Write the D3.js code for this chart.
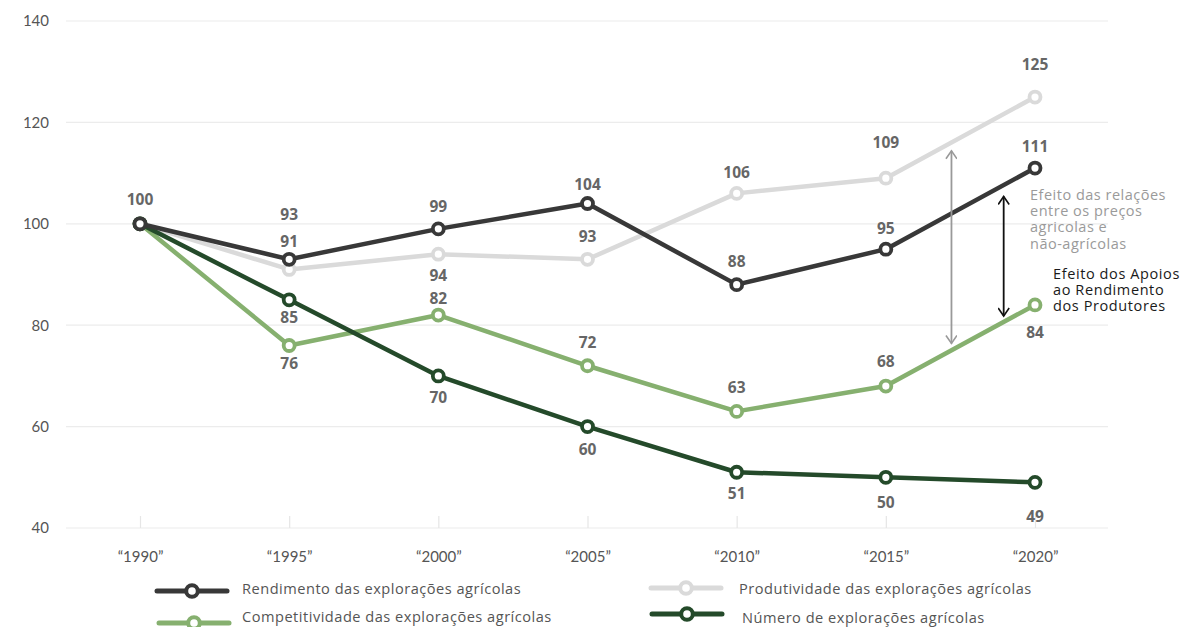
<!DOCTYPE html>
<html>
<head>
<meta charset="utf-8">
<script src="https://cdn.jsdelivr.net/npm/d3@7"></script>
<style>
  html, body { margin: 0; padding: 0; background: #fff; }
  svg { display: block; }
  text { font-family: "Lato", "Open Sans", sans-serif; }
</style>
</head>
<body>
<svg id="chart" width="1182" height="627"></svg>
<script>
// Index values, 1990 = 100
const years = ["1990", "1995", "2000", "2005", "2010", "2015", "2020"];
const rendimento = [100, 93, 99, 104, 88, 95, 111];
const produtividade = [100, 91, 94, 93, 106, 109, 125];
const competitividade = [100, 76, 82, 72, 63, 68, 84];
const numeroExploracoes = [100, 85, 70, 60, 51, 50, 49];
const yTicks = [40, 60, 80, 100, 120, 140];

const seriesNames = [
  "Rendimento das explorações agrícolas",
  "Produtividade das explorações agrícolas",
  "Competitividade das explorações agrícolas",
  "Número de explorações agrícolas"
];

// Vertical offsets (px) of each value label from its point; null = no label
const rendimentoLabelDy = [-25, -45, -23, -20, -24, -21, -22];
const produtividadeLabelDy = [null, -28, 21, -23, -21, -36, -33];
const competitividadeLabelDy = [null, 18, -17, -24, -24, -25, 27];
const numeroLabelDy = [null, 17, 21, 22, 21, 25, 34];

const colors = {
  rendimento: "#383838",
  produtividade: "#dadada",
  competitividade: "#86b06f",
  numero: "#244a2a"
};

const textFont = "'Open Sans', Lato, sans-serif";

const svg = d3.select("#chart");

const x = d3.scalePoint().domain(years).range([140, 1035]);
const y = d3.scaleLinear().domain([40, 140]).range([528, 21]);

// Grid lines
svg.append("g")
  .selectAll("line")
  .data(yTicks)
  .join("line")
  .attr("x1", 66).attr("x2", 1108)
  .attr("y1", d => y(d)).attr("y2", d => y(d))
  .attr("stroke", "#ececec").attr("stroke-width", 1.2);

// Y axis labels
const yAxis = d3.axisLeft(y).tickValues(yTicks).tickSize(0).tickPadding(0);
const yG = svg.append("g").attr("transform", "translate(49,0)").call(yAxis);
yG.select(".domain").remove();
yG.selectAll("text")
  .attr("fill", "#555").attr("font-size", 15)
  .style("font-family", "Lato, 'Open Sans', sans-serif");

// X axis: small inward ticks and quoted year labels
const xAxis = d3.axisBottom(x).tickSize(-12).tickPadding(23).tickFormat(d => "\u201C" + d + "\u201D");
const xG = svg.append("g").attr("transform", `translate(0,${y(40)})`).call(xAxis);
xG.select(".domain").remove();
xG.selectAll(".tick line").attr("stroke", "#e6e6e6").attr("stroke-width", 1.2);
xG.selectAll("text")
  .attr("fill", "#555").attr("font-size", 15)
  .style("font-family", "Lato, 'Open Sans', sans-serif");

const line = d3.line().x((d, i) => x(years[i])).y(d => y(d));

const series = [
  { key: "produtividade", values: produtividade, dy: produtividadeLabelDy },
  { key: "competitividade", values: competitividade, dy: competitividadeLabelDy },
  { key: "numero", values: numeroExploracoes, dy: numeroLabelDy },
  { key: "rendimento", values: rendimento, dy: rendimentoLabelDy }
];

const plot = svg.append("g");
series.forEach(s => {
  const g = plot.append("g");
  g.append("path")
    .datum(s.values)
    .attr("d", line)
    .attr("fill", "none")
    .attr("stroke", colors[s.key])
    .attr("stroke-width", 4.5)
    .attr("stroke-linejoin", "round");
  g.selectAll("circle")
    .data(s.values)
    .join("circle")
    .attr("cx", (d, i) => x(years[i]))
    .attr("cy", d => y(d))
    .attr("r", 5.5)
    .attr("fill", "#fff")
    .attr("stroke", colors[s.key])
    .attr("stroke-width", 3.8);
});

// Value labels
series.forEach(s => {
  plot.append("g")
    .selectAll("text")
    .data(s.values.map((v, i) => ({ v, i, dy: s.dy[i] })).filter(d => d.dy !== null))
    .join("text")
    .attr("x", d => x(years[d.i]))
    .attr("y", d => y(d.v) + d.dy)
    .attr("text-anchor", "middle")
    .attr("dominant-baseline", "central")
    .attr("font-size", 15.5)
    .attr("font-weight", 700)
    .style("font-family", "'Open Sans', Lato, sans-serif")
    .attr("fill", "#666")
    .text(d => d.v);
});

// Annotation arrows
const defs = svg.append("defs");
function chevron(id, color) {
  defs.append("marker")
    .attr("id", id)
    .attr("viewBox", "0 0 12 12")
    .attr("refX", 10).attr("refY", 6)
    .attr("markerWidth", 12).attr("markerHeight", 12)
    .attr("markerUnits", "userSpaceOnUse")
    .attr("orient", "auto-start-reverse")
    .append("path")
    .attr("d", "M2,0.5 L10,6 L2,11.5")
    .attr("fill", "none")
    .attr("stroke", color)
    .attr("stroke-width", 1.6);
}
chevron("arrowGray", "#999");
chevron("arrowBlack", "#111");

const xBetween = d3.scaleLinear().domain([0, 1]).range([x("2015"), x("2020")]);

svg.append("line")
  .attr("x1", xBetween(0.44)).attr("x2", xBetween(0.44))
  .attr("y1", y(114.4)).attr("y2", y(76.4))
  .attr("stroke", "#999").attr("stroke-width", 1.8)
  .attr("marker-start", "url(#arrowGray)")
  .attr("marker-end", "url(#arrowGray)");

svg.append("line")
  .attr("x1", xBetween(0.79)).attr("x2", xBetween(0.79))
  .attr("y1", y(105.4)).attr("y2", y(81.8))
  .attr("stroke", "#111").attr("stroke-width", 1.8)
  .attr("marker-start", "url(#arrowBlack)")
  .attr("marker-end", "url(#arrowBlack)");

// Notes, one text element per line
function note(lines, x0, y0, step, color, spacing) {
  svg.append("g")
    .selectAll("text")
    .data(lines)
    .join("text")
    .attr("x", x0)
    .attr("y", (d, i) => y0 + i * step)
    .attr("fill", color)
    .attr("font-size", 14.5)
    .attr("letter-spacing", spacing)
    .style("font-family", textFont)
    .text(d => d);
}
note(["Efeito das relações", "entre os preços", "agricolas e", "não-agrícolas"], 1030, 200, 16.2, "#9a9a9a", 0.5);
note(["Efeito dos Apoios", "ao Rendimento", "dos Produtores"], 1053, 279, 16, "#1a1a1a", 0.6);

// Legend
const legendItems = [
  { key: "rendimento", name: seriesNames[0], lx: 157, cy: 591, tx: 242, ty: 588 },
  { key: "competitividade", name: seriesNames[2], lx: 159, cy: 623, tx: 242, ty: 616 },
  { key: "produtividade", name: seriesNames[1], lx: 651, cy: 588, tx: 739, ty: 588 },
  { key: "numero", name: seriesNames[3], lx: 652, cy: 614, tx: 742, ty: 617 }
];
const legend = svg.append("g");
legendItems.forEach(item => {
  const g = legend.append("g");
  g.append("line")
    .attr("x1", item.lx).attr("x2", item.lx + 70)
    .attr("y1", item.cy).attr("y2", item.cy)
    .attr("stroke", colors[item.key]).attr("stroke-width", 5)
    .attr("stroke-linecap", "round");
  g.append("circle")
    .attr("cx", item.lx + 35).attr("cy", item.cy)
    .attr("r", 5.8)
    .attr("fill", "#fff")
    .attr("stroke", colors[item.key]).attr("stroke-width", 4);
  g.append("text")
    .attr("x", item.tx).attr("y", item.ty)
    .attr("dominant-baseline", "central")
    .attr("fill", "#555").attr("font-size", 14.6)
    .attr("letter-spacing", 0.5)
    .style("font-family", textFont)
    .text(item.name);
});
</script>
</body>
</html>
